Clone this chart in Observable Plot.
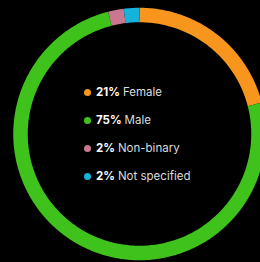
<!DOCTYPE html>
<html>
<head>
<meta charset="utf-8">
<script src="https://cdn.jsdelivr.net/npm/d3@7"></script>
<script src="https://cdn.jsdelivr.net/npm/@observablehq/plot@0.6"></script>
<style>
  html, body { margin: 0; padding: 0; background: #000; }
  #wrap { position: relative; width: 260px; height: 262px; overflow: hidden; background: #000; }
  #legend { position: absolute; left: 84px; top: 78px; font-family: Inter, "Noto Sans", sans-serif; font-size: 11.5px; color: #dcdcdc; }
  #legend .row { height: 28px; display: flex; align-items: center; white-space: nowrap; }
  #legend .dot { width: 7px; height: 7px; border-radius: 50%; margin-right: 5px; }
  #legend b { color: #fff; font-weight: 700; margin-right: 3px; }
</style>
</head>
<body>
<div id="wrap"><div id="legend"></div></div>
<script>
const categories = ["Female", "Male", "Non-binary", "Not specified"];
const percents = [21, 75, 2, 2];
const colors = ["#f7951d", "#3fc31c", "#c9788f", "#17b2d9"];

const W = 260, H = 262;
const cx = 139, cy = 133.5, rMid = 119, thick = 14.5;

const pie = d3.pie().sort(null).value(d => d.value)(categories.map((c, i) => ({cat: c, value: percents[i]})));
const pts = [];
pie.forEach(a => {
  const n = Math.max(4, Math.ceil((a.endAngle - a.startAngle) * 60));
  for (let k = 0; k <= n; k++) {
    const t = a.startAngle + (a.endAngle - a.startAngle) * k / n;
    pts.push({cat: a.data.cat, x: rMid * Math.sin(t), y: rMid * Math.cos(t)});
  }
});

const chart = Plot.plot({
  width: W, height: H,
  margin: 0,
  style: {background: "#000"},
  x: {domain: [-cx, W - cx], axis: null},
  y: {domain: [-(H - cy), cy], axis: null},
  color: {domain: categories, range: colors},
  marks: [
    Plot.line(pts, {x: "x", y: "y", z: "cat", stroke: "cat", strokeWidth: thick, strokeLinecap: "butt", strokeLinejoin: "round", curve: "linear"})
  ]
});
document.getElementById("wrap").prepend(chart);
chart.style.position = "absolute";
chart.style.left = "0"; chart.style.top = "0";

const legend = document.getElementById("legend");
categories.forEach((c, i) => {
  const row = document.createElement("div");
  row.className = "row";
  row.innerHTML = `<span class="dot" style="background:${colors[i]}"></span><b>${percents[i]}%</b><span>${c}</span>`;
  legend.appendChild(row);
});
</script>
</body>
</html>
